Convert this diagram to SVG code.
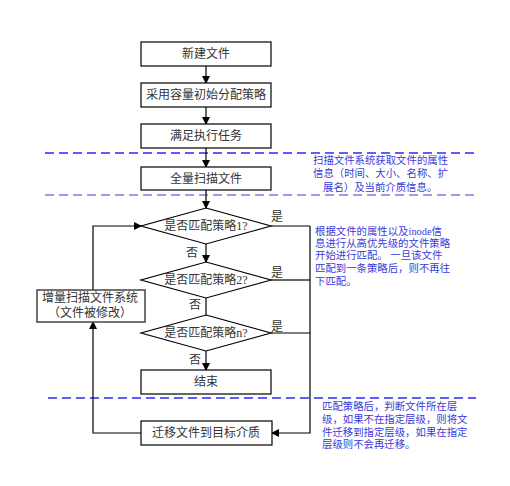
<svg xmlns="http://www.w3.org/2000/svg" width="510" height="486" viewBox="0 0 510 486">
<style>
.box{fill:#fff;stroke:#000;stroke-width:1.2}
.t{font-family:"Liberation Serif","Noto Sans CJK SC",serif;font-size:12px;fill:#333;text-anchor:middle}
.lb{font-family:"Liberation Serif","Noto Sans CJK SC",serif;font-size:12px;fill:#333}
.note{font-family:"Liberation Serif","Noto Sans CJK SC",serif;font-size:10.4px;fill:#3a3ad8}
.ln{fill:none;stroke:#000;stroke-width:1.2}
.gl{fill:none;stroke:#666;stroke-width:1.8}
.dash{stroke:#2a2aff;stroke-width:1.3;stroke-dasharray:9 5}
</style>
<defs>
<marker id="ah" markerWidth="8" markerHeight="8" refX="7" refY="4" orient="auto" markerUnits="userSpaceOnUse">
<path d="M0,0 L8,4 L0,8 Z" fill="#000"/>
</marker>
</defs>
<g id="separators">
<line class="dash" x1="45" y1="153" x2="476" y2="153"/>
<line class="dash" x1="45" y1="195" x2="476" y2="195" style="stroke:#7a7af5;stroke-width:1.5"/>
<line class="dash" x1="48" y1="398" x2="476" y2="398"/>
</g>
<g id="connectors">
<line class="ln" x1="206" y1="66" x2="206" y2="83" marker-end="url(#ah)"/>
<line class="ln" x1="206" y1="107" x2="206" y2="124" marker-end="url(#ah)"/>
<line class="ln" x1="206" y1="148" x2="206" y2="167" marker-end="url(#ah)"/>
<line class="ln" x1="206" y1="190" x2="206" y2="208" marker-end="url(#ah)"/>
<line class="ln" x1="206" y1="244" x2="206" y2="262" marker-end="url(#ah)"/>
<line class="ln" x1="206" y1="298" x2="206" y2="315"/>
<line class="ln" x1="206" y1="351" x2="206" y2="370" marker-end="url(#ah)"/>
<line class="ln" x1="271" y1="226" x2="310" y2="226"/>
<line class="gl" x1="271" y1="280" x2="310" y2="280"/>
<line class="ln" x1="271" y1="333" x2="310" y2="333"/>
<polyline class="ln" points="310,226 310,433 272,433" marker-end="url(#ah)"/>
<polyline class="ln" points="141,433 93,433 93,322" marker-end="url(#ah)"/>
<polyline class="ln" points="93,290 93,226 141,226" marker-end="url(#ah)"/>
<text class="lb" x="271" y="221">是</text>
<text class="lb" x="271" y="277">是</text>
<text class="lb" x="271" y="331">是</text>
<text class="lb" x="186" y="257">否</text>
<text class="lb" x="189" y="309">否</text>
<text class="lb" x="189" y="364">否</text>
</g>
<g id="n1"><rect class="box" x="141" y="42" width="130" height="24"/><text class="t" x="206" y="58">新建文件</text></g>
<g id="n2"><rect class="box" x="141" y="83" width="130" height="24"/><text class="t" x="206" y="99">采用容量初始分配策略</text></g>
<g id="n3"><rect class="box" x="141" y="124" width="130" height="24"/><text class="t" x="206" y="140">满足执行任务</text></g>
<g id="n4"><rect class="box" x="141" y="167" width="130" height="23"/><text class="t" x="206" y="183">全量扫描文件</text></g>
<g id="d1"><polygon class="box" points="206,208 271,226 206,244 141,226"/><text class="t" x="206" y="230">是否匹配策略1?</text></g>
<g id="d2"><polygon class="box" points="206,262 271,280 206,298 141,280"/><text class="t" x="206" y="284">是否匹配策略2?</text></g>
<g id="d3"><polygon class="box" points="206,315 271,333 206,351 141,333"/><text class="t" x="206" y="337">是否匹配策略n?</text></g>
<g id="end"><rect class="box" x="141" y="370" width="130" height="24"/><text class="t" x="206" y="386">结束</text></g>
<g id="migrate"><rect class="box" x="141" y="421" width="131" height="24"/><text class="t" x="206" y="437">迁移文件到目标介质</text></g>
<g id="incr"><rect class="box" x="37" y="290" width="108" height="32" style="stroke:#444;stroke-width:1.5"/><text class="t" x="90" y="302">增量扫描文件系统</text><text class="t" x="90" y="317">（文件被修改）</text></g>
<g id="note1">
<text class="note" x="313" y="164">扫描文件系统获取文件的属性</text>
<text class="note" x="313" y="177">信息（时间、大小、名称、扩</text>
<text class="note" x="323" y="191">展名）及当前介质信息。</text>
</g>
<g id="note2">
<text class="note" x="315" y="235">根据文件的属性以及inode信</text>
<text class="note" x="315" y="247">息进行从高优先级的文件策略</text>
<text class="note" x="315" y="259">开始进行匹配。 一旦该文件</text>
<text class="note" x="315" y="272">匹配到一条策略后，则不再往</text>
<text class="note" x="315" y="285">下匹配。</text>
</g>
<g id="note3">
<text class="note" x="322" y="410">匹配策略后，判断文件所在层</text>
<text class="note" x="322" y="423">级，如果不在指定层级，则将文</text>
<text class="note" x="322" y="436">件迁移到指定层级，如果在指定</text>
<text class="note" x="322" y="448">层级则不会再迁移。</text>
</g>
</svg>
